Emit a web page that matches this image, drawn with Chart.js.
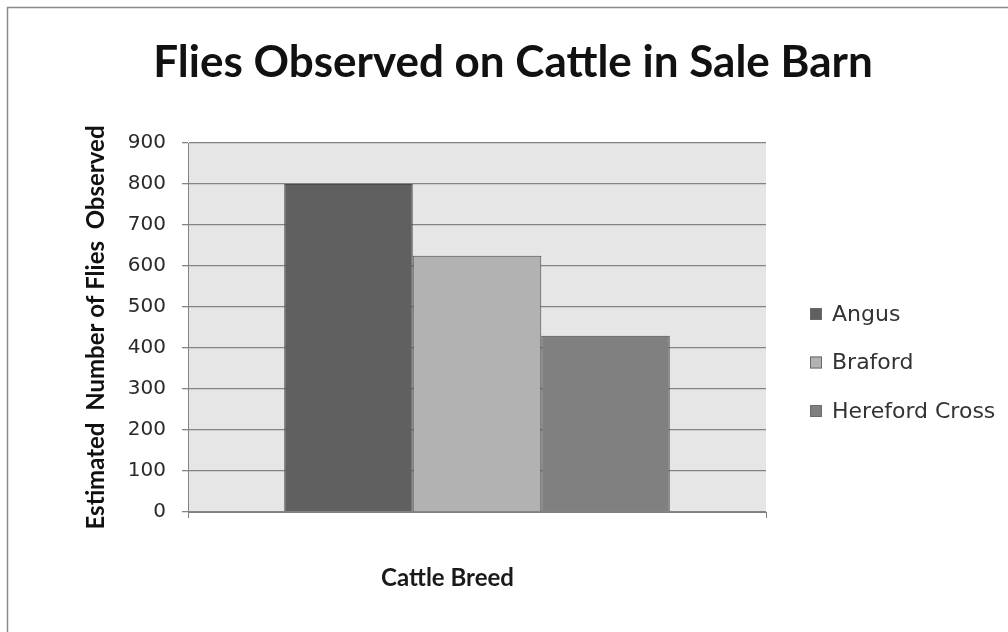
<!DOCTYPE html>
<html>
<head>
<meta charset="utf-8">
<script src="https://cdn.jsdelivr.net/npm/chart.js@4"></script>
<style>
  html, body { margin: 0; padding: 0; background: #fff; }
  #wrap { width: 1008px; height: 632px; position: relative; }
</style>
</head>
<body>
<div id="wrap"><canvas id="c" width="1008" height="632"></canvas></div>
<script>
const categories = [''];
const seriesNames = ['Angus', 'Braford', 'Hereford Cross'];
const angusValues = [800];
const brafordValues = [625];
const herefordValues = [430];
const yTicks = [0, 100, 200, 300, 400, 500, 600, 700, 800, 900];
const seriesColors = ['#606060', '#b2b2b2', '#808080'];

const titleText = 'Flies Observed on Cattle in Sale Barn';
const yTitleText = 'Estimated  Number of Flies  Observed';
const xTitleText = 'Cattle Breed';

const frameAndBg = {
  id: 'frameAndBg',
  beforeDraw(chart) {
    const ctx = chart.ctx;
    const a = chart.chartArea;
    ctx.save();
    ctx.fillStyle = '#ffffff';
    ctx.fillRect(0, 0, chart.width, chart.height);
    ctx.strokeStyle = '#8a8a8a';
    ctx.lineWidth = 1.5;
    ctx.beginPath();
    ctx.moveTo(7.5, chart.height + 2);
    ctx.lineTo(7.5, 7.5);
    ctx.lineTo(chart.width + 2, 7.5);
    ctx.stroke();
    ctx.fillStyle = '#e6e6e6';
    ctx.fillRect(a.left, a.top, a.right - a.left, a.bottom - a.top);
    ctx.restore();
  }
};

const extras = {
  id: 'extras',
  afterDraw(chart) {
    const ctx = chart.ctx;
    const a = chart.chartArea;
    ctx.save();
    // chart title
    ctx.fillStyle = '#111111';
    ctx.font = 'bold 44px Lato';
    ctx.textAlign = 'center';
    ctx.textBaseline = 'alphabetic';
    ctx.fillText(titleText, 513, 77);
    // x axis title
    ctx.fillStyle = '#1a1a1a';
    ctx.font = 'bold 24px Lato';
    ctx.textBaseline = 'middle';
    ctx.fillText(xTitleText, a.left + (a.right - a.left) * 0.449, a.bottom + 66);
    // legend
    ctx.font = '22px "DejaVu Sans"';
    ctx.textAlign = 'left';
    chart.data.datasets.forEach((ds, i) => {
      const cy = a.top + 171 + i * 48.5;
      const bx = a.right + 44;
      ctx.fillStyle = ds.backgroundColor;
      ctx.fillRect(bx, cy - 6, 12, 12);
      ctx.strokeStyle = '#6a6a6a';
      ctx.lineWidth = 1;
      ctx.strokeRect(bx + 0.5, cy - 5.5, 11, 11);
      ctx.fillStyle = '#333333';
      ctx.fillText(ds.label, bx + 22, cy + 1);
    });
    ctx.restore();
  }
};

new Chart(document.getElementById('c'), {
  type: 'bar',
  data: {
    labels: categories,
    datasets: [
      { label: seriesNames[0], data: angusValues, backgroundColor: seriesColors[0] },
      { label: seriesNames[1], data: brafordValues, backgroundColor: seriesColors[1] },
      { label: seriesNames[2], data: herefordValues, backgroundColor: seriesColors[2] }
    ]
  },
  options: {
    responsive: false,
    animation: false,
    devicePixelRatio: 1,
    layout: { padding: { left: 76, right: 242, top: 143, bottom: 114 } },
    datasets: {
      bar: {
        categoryPercentage: 0.667,
        barPercentage: 1.0,
        borderColor: '#4a4a4a',
        borderWidth: 1,
        borderSkipped: 'bottom'
      }
    },
    plugins: {
      legend: { display: false },
      tooltip: { enabled: false },
      title: { display: false }
    },
    scales: {
      x: {
        grid: {
          display: true,
          offset: true,
          drawOnChartArea: false,
          drawTicks: true,
          tickLength: 6,
          color: '#808080'
        },
        border: { display: true, color: '#808080', width: 1 },
        ticks: { display: false }
      },
      y: {
        min: 0,
        max: 900,
        afterBuildTicks(scale) {
          scale.ticks = yTicks.map(v => ({ value: v }));
        },
        afterFit(scale) {
          scale.width = 188 - 76;
        },
        grid: {
          color: '#848484',
          lineWidth: 1.3,
          tickLength: 6
        },
        border: { display: true, color: '#848484', width: 1 },
        ticks: {
          color: '#2a2a2a',
          font: { family: 'DejaVu Sans', size: 20 },
          padding: 16
        },
        title: {
          display: true,
          text: yTitleText,
          color: '#111111',
          font: { family: 'Lato', weight: 'bold', size: 24 },
          padding: { top: 6, bottom: 0 }
        }
      }
    }
  },
  plugins: [frameAndBg, extras]
});
</script>
</body>
</html>
